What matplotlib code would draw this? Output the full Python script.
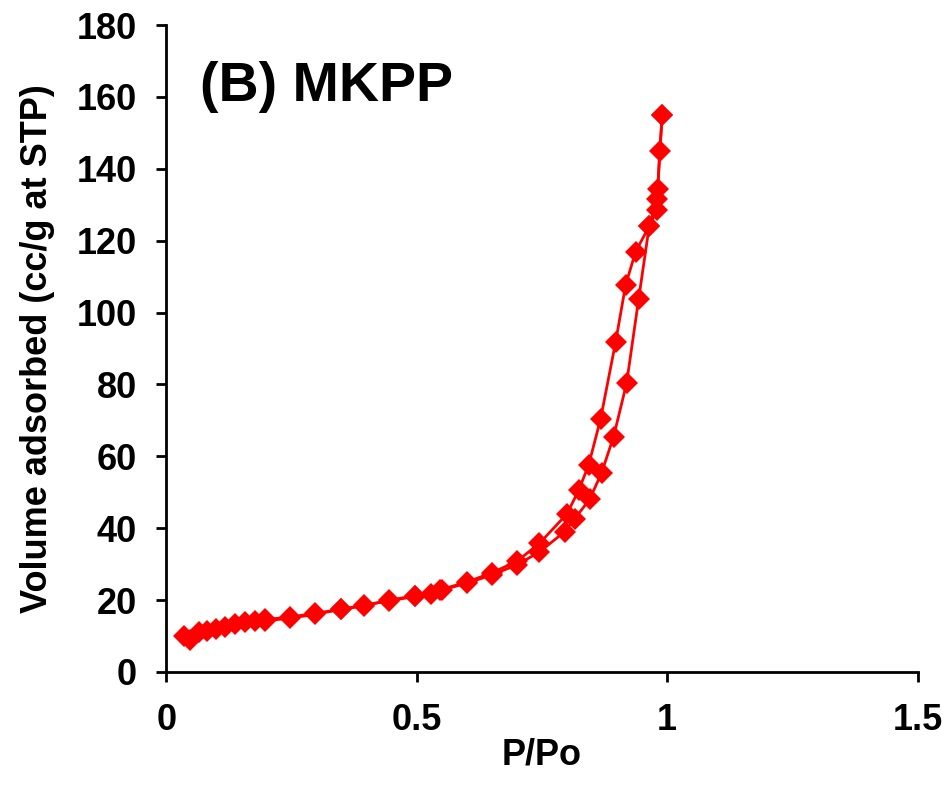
import matplotlib
matplotlib.use("Agg")
from matplotlib import pyplot as plt

plt.rcParams['font.family'] = ['Liberation Sans', 'DejaVu Sans']
plt.rcParams['font.weight'] = 'bold'

# Adsorption branch (increasing relative pressure)
ads_p = [0.036, 0.048, 0.066, 0.082, 0.100, 0.118, 0.138, 0.158, 0.178, 0.198,
         0.248, 0.296, 0.348, 0.395, 0.445, 0.497, 0.529, 0.550, 0.600, 0.650,
         0.700, 0.745, 0.795, 0.815, 0.845, 0.869, 0.893, 0.919, 0.943, 0.964,
         0.979, 0.985, 0.990]
ads_v = [10.0, 8.9, 11.1, 11.3, 12.0, 12.6, 13.3, 13.8, 14.3, 14.6,
         15.3, 16.3, 17.4, 18.6, 19.8, 21.0, 21.6, 22.8, 24.7, 27.0,
         29.8, 33.4, 39.0, 42.6, 48.0, 55.4, 65.5, 80.4, 103.8, 124.0,
         128.5, 145.0, 155.0]

# Desorption branch (decreasing relative pressure)
des_p = [0.990, 0.981, 0.979, 0.964, 0.937, 0.917, 0.897, 0.867, 0.843, 0.823,
         0.800, 0.745, 0.700, 0.650, 0.600, 0.547, 0.497, 0.445, 0.395, 0.348,
         0.296, 0.248, 0.198]
des_v = [155.0, 134.5, 131.5, 124.0, 117.0, 107.7, 91.8, 70.4, 57.5, 50.5,
         44.0, 35.8, 30.8, 27.6, 25.0, 22.9, 21.2, 20.0, 18.4, 17.4,
         16.0, 15.0, 14.2]

fig = plt.figure(figsize=(9.5, 7.85), dpi=100)
ax = fig.add_axes([0.175, 0.144, 0.791, 0.824])

for p, v in [(ads_p, ads_v), (des_p, des_v)]:
    ax.plot(p, v, color='red', linewidth=2.0, marker='D', markersize=11,
            markeredgewidth=0)

ax.set_xlim(0, 1.5)
ax.set_ylim(0, 180)
ax.set_xticks([0, 0.5, 1, 1.5])
ax.set_xticklabels(['0', '0.5', '1', '1.5'])
ax.set_yticks(range(0, 181, 20))

for side in ['top', 'right']:
    ax.spines[side].set_visible(False)
for side in ['left', 'bottom']:
    ax.spines[side].set_linewidth(2.0)

ax.tick_params(direction='out', length=7, width=2.0, labelsize=26)
ax.tick_params(axis='x', pad=15)
ax.tick_params(axis='y', pad=14)
for lbl in ax.get_xticklabels() + ax.get_yticklabels():
    lbl.set_fontweight('bold')

ax.set_xlabel('P/Po', fontsize=26, fontweight='bold', labelpad=0)
ax.set_ylabel('Volume adsorbed (cc/g at STP)', fontsize=26, fontweight='bold',
              labelpad=16)

ax.text(0.045, 0.905, '(B) MKPP', transform=ax.transAxes, fontsize=40,
        fontweight='bold', va='center', ha='left')

fig.savefig('out.png', dpi=100)
